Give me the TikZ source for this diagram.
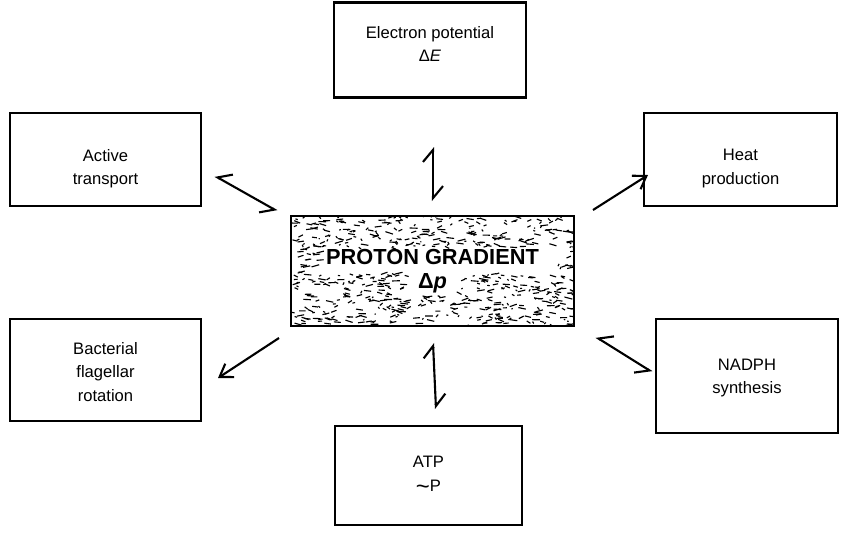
\documentclass[tikz,border=0pt]{standalone}
\usepackage{fontspec}
\setmainfont{Liberation Sans}
\usetikzlibrary{arrows.meta,positioning,calc}

\begin{document}
\begin{tikzpicture}[
    x=0.025cm, y=-0.025cm,
    box/.style={draw, line width=1.5pt, inner sep=0pt},
    txt/.style={align=center, inner sep=0pt, font=\fontsize{11.8}{16.5}\selectfont},
    eqv/.style={line width=1.5pt, {Straight Barb[harpoon,length=3mm,width=5mm]}-{Straight Barb[harpoon,length=3mm,width=5mm]}},
    eqd/.style={line width=1.5pt, {Straight Barb[harpoon,swap,length=3mm,width=5mm]}-{Straight Barb[harpoon,swap,length=3mm,width=5mm]}},
    arrow/.style={line width=1.5pt, -{Straight Barb[length=3mm,width=4mm]}}
]
    \useasboundingbox (0,0) rectangle (849,541);

    % speckled background of the central box
    \begin{scope}
        \clip (291,216) rectangle (574,326);
        \pgfmathsetseed{11}
        \foreach \i in {1,...,760} {
            \pgfmathsetmacro\sx{291+283*rnd}
            \pgfmathsetmacro\sy{216+110*rnd}
            \pgfmathsetmacro\dx{1+7*rnd}
            \pgfmathsetmacro\dy{2.5*rand}
            \pgfmathtruncatemacro\inlabel{(\sx>318)*(\sx<552)*(\sy>248)*(\sy<273) + (\sx>410)*(\sx<456)*(\sy>271)*(\sy<295)}
            \ifnum\inlabel=0
                \draw[line width=0.8pt] (\sx,\sy) -- ++(\dx,\dy);
            \fi
        }
    \end{scope}

    \node[box, minimum width=192*0.025cm, minimum height=95*0.025cm] (elec) at (430,50) {};
    \node[box, minimum width=191*0.025cm, minimum height=93*0.025cm] (active) at (105.5,159.5) {};
    \node[box, minimum width=193*0.025cm, minimum height=93*0.025cm] (heat) at (740.5,159.5) {};
    \node[box, minimum width=283*0.025cm, minimum height=110*0.025cm] (proton) at (432.5,271) {};
    \node[box, minimum width=191*0.025cm, minimum height=102*0.025cm] (flag) at (105.5,370) {};
    \node[box, minimum width=182*0.025cm, minimum height=114*0.025cm] (nadph) at (747,376) {};
    \node[box, minimum width=187*0.025cm, minimum height=99*0.025cm] (atp) at (428.5,475.5) {};

    \node[txt] (elec-t) at ($(elec)+(0,-6)$) {Electron potential\\Δ\textit{E}};
    \node[txt] (active-t) at ($(active)+(0,9)$) {Active\\transport};
    \node[txt] (heat-t) at ($(heat)+(0,9)$) {Heat\\production};
    \node[txt, font=\fontsize{15.5}{17}\selectfont\bfseries] (proton-t) at (proton) {PROTON GRADIENT\\Δ\textit{p}};
    \node[txt] (flag-t) at ($(flag)+(0,2)$) {Bacterial\\flagellar\\rotation};
    \node[txt] (nadph-t) at ($(nadph)+(0,2)$) {NADPH\\synthesis};
    \node[txt] (atp-t) at (atp) {ATP\\\raisebox{-2.5pt}{\fontsize{17}{16.5}\selectfont\textasciitilde}P};

    \coordinate (e1) at (433,147);
    \coordinate (e2) at (433,201);
    \coordinate (a1) at (215,176);
    \coordinate (a2) at (277,211);
    \coordinate (h1) at (593,210);
    \coordinate (h2) at (648,175);
    \coordinate (f1) at (279,338);
    \coordinate (f2) at (218,378);
    \coordinate (n1) at (596,337);
    \coordinate (n2) at (652,372);
    \coordinate (t1) at (433,343);
    \coordinate (t2) at (436,409);

    \draw[eqv] (e1) -- (e2);
    \draw[eqd] (a1) -- (a2);
    \draw[arrow] (h1) -- (h2);
    \draw[arrow] (f1) -- (f2);
    \draw[eqd] (n1) -- (n2);
    \draw[eqv] (t1) -- (t2);
\end{tikzpicture}
\end{document}
